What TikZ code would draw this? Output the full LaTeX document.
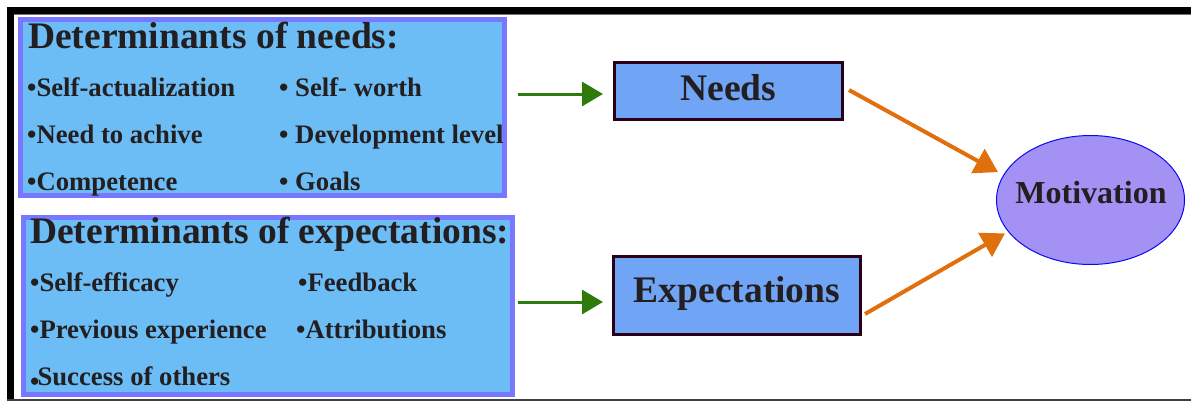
\documentclass[tikz,border=0pt]{standalone}
\usepackage{fontspec}
\setmainfont{Liberation Serif}
\usetikzlibrary{arrows.meta,calc,shapes.geometric}
\definecolor{boxfill}{HTML}{6CBDF6}
\definecolor{boxedge}{HTML}{7777FF}
\definecolor{nfill}{HTML}{70A4F5}
\definecolor{nedge}{HTML}{2A0018}
\definecolor{efill}{HTML}{A391F4}
\definecolor{eedge}{HTML}{0A0AF0}
\definecolor{txt}{HTML}{231F20}
\definecolor{grn}{HTML}{2E7A0C}
\definecolor{org}{HTML}{E0700E}
\tikzset{
  detbox/.style={draw=boxedge, fill=boxfill, line width=5pt, inner sep=0pt, rectangle},
  keybox/.style={draw=nedge, fill=nfill, line width=3pt, inner sep=0pt, rectangle,
     font=\fontsize{37.5}{40}\selectfont\bfseries, text=txt},
  heading/.style={anchor=base west, inner sep=0pt, font=\fontsize{37.5}{40}\selectfont\bfseries, text=txt},
  item/.style={anchor=base west, inner sep=0pt, font=\fontsize{26.7}{30}\selectfont\bfseries, text=txt},
  garrow/.style={draw=grn, line width=3pt, -{Triangle[length=21pt,width=24pt]}},
  oarrow/.style={draw=org, line width=4pt, -{Triangle[length=23pt,width=27pt]}}
}
\begin{document}
\begin{tikzpicture}[x=1pt,y=-1pt]
\useasboundingbox (0,0) rectangle (1191,402);
% frame
\fill[black] (7,7) rectangle (1191,14);
\fill[black] (7,7) rectangle (14,400);
\draw[black!55, line width=1pt] (14,14.8) -- (1191,14.8);
\draw[black!75, line width=1.2pt] (7,400) -- (1191,400);
% determinant boxes
\node[detbox, minimum width=484pt, minimum height=176pt] (detN) at (262.5,107.5) {};
\node[detbox, minimum width=489pt, minimum height=177pt] (detE) at (268,306) {};
\node[heading] (hN) at (28,48) {Determinants of needs:};
\node[item] (n1) at (27,96) {•Self-actualization};
\node[item] (n2) at (27,143) {•Need to achive};
\node[item] (n3) at (27,190) {•Competence};
\node[item] (n4) at (279,96) {• Self- worth};
\node[item] (n5) at (279,143) {• Development level};
\node[item] (n6) at (279,190) {• Goals};
\node[heading] (hE) at (30,243) {Determinants of expectations:};
\node[item] (e1) at (30,291) {•Self-efficacy};
\node[item] (e2) at (30,338) {•Previous experience};
\node[item] (e3) at (30,385) {\raisebox{-5pt}{•}\kern-2pt Success of others};
\node[item] (e4) at (298,291) {•Feedback};
\node[item] (e5) at (296,338) {•Attributions};
% key boxes
\node[keybox, minimum width=228pt, minimum height=57pt, text height=26pt, text depth=8pt] (needs) at (728.5,91) {Needs};
\node[keybox, minimum width=247pt, minimum height=78pt, text height=26pt, text depth=13pt] (expect) at (737,295.5) {Expectations};
\node[ellipse, draw=eedge, fill=efill, line width=1pt, inner sep=0pt, minimum width=188pt, minimum height=129pt] (motiv) at (1090.5,200) {};
\node[anchor=base, inner sep=0pt, font=\fontsize{32}{36}\selectfont\bfseries, text=txt] (motivtxt) at (1091,203) {Motivation};
% arrows
\draw[garrow] ($(detN.east |- needs.west)+(11,3)$) -- ($(needs.west)+(-10,3)$);
\draw[garrow] ($(detE.east |- expect.west)+(3,6.5)$) -- ($(expect.west)+(-9,6.5)$);
\draw[oarrow, shorten >=6pt] ($(needs.east)+(5,-1)$) -- (motiv.164);
\draw[oarrow, shorten >=3.5pt] ($(expect.east)+(3,18.5)$) -- (motiv.201);
\end{tikzpicture}
\end{document}
